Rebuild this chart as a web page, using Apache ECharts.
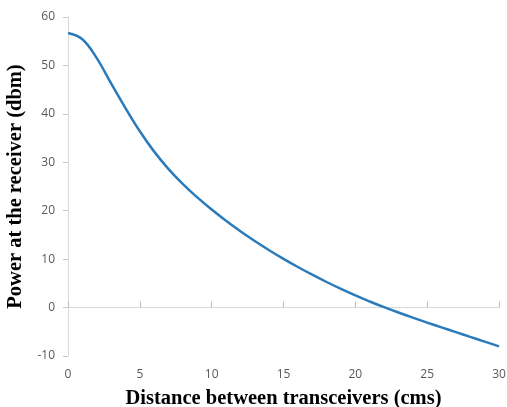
<!DOCTYPE html>
<html>
<head>
<meta charset="utf-8">
<script src="https://cdn.jsdelivr.net/npm/echarts@6/dist/echarts.min.js"></script>
<style>html,body{margin:0;padding:0;background:#fff}#c{width:507px;height:407px}</style>
</head>
<body>
<div id="c"></div>
<script>
const distance = [0,1,2,3,4,5,6,7,8,9,10,11,12,13,14,15,16,17,18,19,20,21,22,23,24,25,26,27,28,29,30];
const power = [56.7,55.4,51.5,46.3,41.2,36.4,32.2,28.6,25.5,22.75,20.25,17.93,15.76,13.74,11.84,10.06,8.38,6.79,5.28,3.85,2.50,1.26,0.09,-1.02,-2.08,-3.10,-4.10,-5.08,-6.06,-7.03,-8.0];
const xTitle = 'Distance between transceivers (cms)';
const yTitle = 'Power at the receiver (dbm)';

const chart = echarts.init(document.getElementById('c'));
const labelStyle = {color:'#595959', fontSize:12, fontFamily:'Open Sans'};
chart.setOption({
  animation:false,
  grid:{left:68, right:8, top:17, bottom:51, containLabel:false, outerBoundsMode:'none'},
  xAxis:{type:'value', min:0, max:30, interval:5,
    name:xTitle, nameLocation:'middle', nameGap:32,
    nameTextStyle:{fontFamily:'Liberation Serif', fontWeight:'bold', fontSize:20.5, color:'#000'},
    axisLine:{lineStyle:{color:'#d9d9d9', width:1}},
    axisTick:{show:true, inside:true, length:6, lineStyle:{color:'#bfbfbf'}},
    axisLabel:Object.assign({margin:13}, labelStyle),
    splitLine:{show:false}},
  yAxis:{type:'value', min:-10, max:60, interval:10,
    name:yTitle, nameLocation:'middle', nameGap:38, nameRotate:90,
    nameTextStyle:{fontFamily:'Liberation Serif', fontWeight:'bold', fontSize:20.5, color:'#000'},
    axisLine:{show:true, lineStyle:{color:'#d9d9d9', width:1}},
    axisTick:{show:true, length:5, lineStyle:{color:'#c8c8c8'}},
    axisLabel:Object.assign({margin:13}, labelStyle),
    splitLine:{show:false}},
  series:[{type:'line', data:distance.map((d,i)=>[d,power[i]]), smooth:0.4, showSymbol:false,
    lineStyle:{color:'#2b7bbb', width:2.5}}]
});
</script>
</body>
</html>
